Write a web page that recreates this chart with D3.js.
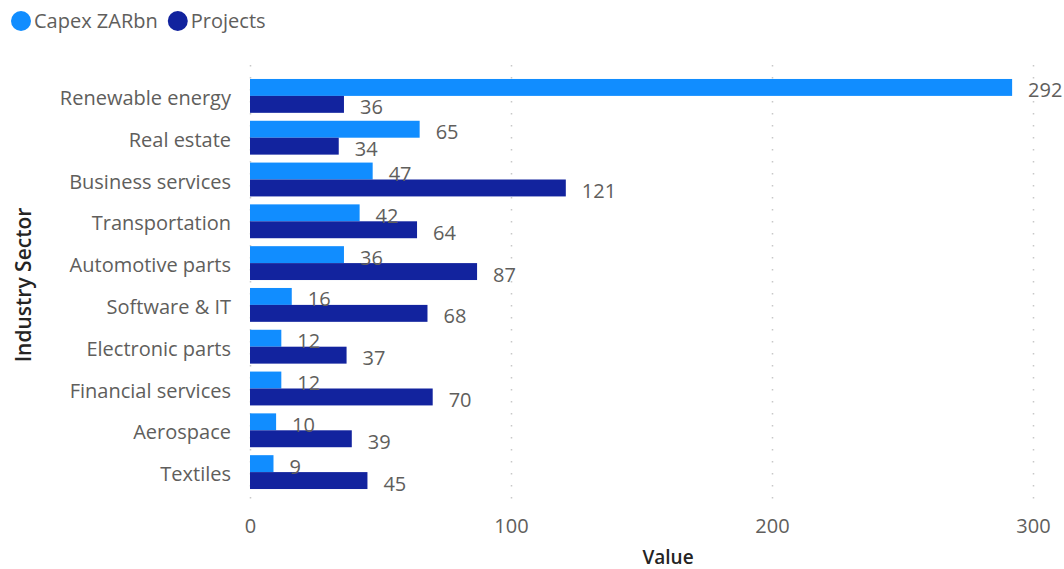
<!DOCTYPE html>
<html>
<head>
<meta charset="utf-8">
<script src="https://cdn.jsdelivr.net/npm/d3@7"></script>
<style>
  body { margin: 0; background: #fff; }
  svg text { font-family: "Open Sans", "Segoe UI", sans-serif; }
</style>
</head>
<body>
<svg id="chart" width="1064" height="569"></svg>
<script>
const sectors = ["Renewable energy", "Real estate", "Business services", "Transportation",
  "Automotive parts", "Software & IT", "Electronic parts", "Financial services", "Aerospace", "Textiles"];
const capex = [292, 65, 47, 42, 36, 16, 12, 12, 10, 9];
const projects = [36, 34, 121, 64, 87, 68, 37, 70, 39, 45];
const seriesNames = ["Capex ZARbn", "Projects"];
const xTicks = [0, 100, 200, 300];

const colors = ["#118DFF", "#12239E"];
const margin = { top: 75, right: 31, bottom: 76, left: 250 };

const svg = d3.select("#chart");
const width = +svg.attr("width") - margin.left - margin.right;
const height = +svg.attr("height") - margin.top - margin.bottom;
const g = svg.append("g").attr("transform", "translate(" + margin.left + "," + margin.top + ")");

const rows = sectors.map((s, i) => ({ sector: s, values: [capex[i], projects[i]] }));

const y = d3.scaleBand().domain(sectors).range([0, height]).paddingInner(0.19).paddingOuter(0.095);
const y1 = d3.scaleBand().domain(seriesNames).range([0, y.bandwidth()]);
const x = d3.scaleLinear().domain([0, 300]).range([0, width]);

// grid lines
g.selectAll(".grid").data(xTicks).enter().append("line")
  .attr("x1", d => x(d) + 0.5).attr("x2", d => x(d) + 0.5)
  .attr("y1", -10).attr("y2", height + 12)
  .attr("stroke", "#c8c8c8").attr("stroke-width", 1.5)
  .attr("stroke-dasharray", "1.5,10.5");

// x axis labels
g.append("g").attr("transform", "translate(0," + height + ")")
  .call(d3.axisBottom(x).tickValues(xTicks).tickSize(0).tickPadding(26))
  .call(a => a.select(".domain").remove())
  .selectAll("text").attr("font-size", 20).attr("fill", "#605E5C")
  .attr("font-family", "'Open Sans', sans-serif");

// y axis labels
g.append("g")
  .call(d3.axisLeft(y).tickSize(0).tickPadding(19))
  .call(a => a.select(".domain").remove())
  .selectAll("text").attr("font-size", 20).attr("fill", "#605E5C")
  .attr("dy", "0.45em")
  .attr("font-family", "'Open Sans', sans-serif");

const grp = g.selectAll(".grp").data(rows).enter().append("g")
  .attr("transform", d => "translate(0," + y(d.sector) + ")");

grp.selectAll("rect").data(d => d.values.map((v, i) => ({ key: seriesNames[i], v, i }))).enter()
  .append("rect")
  .attr("x", 0).attr("y", d => y1(d.key))
  .attr("width", d => x(d.v)).attr("height", y1.bandwidth())
  .attr("fill", d => colors[d.i]);

grp.selectAll(".lbl").data(d => d.values.map((v, i) => ({ key: seriesNames[i], v, i }))).enter()
  .append("text")
  .attr("x", d => x(d.v) + 16)
  .attr("y", d => y1(d.key) + y1.bandwidth() / 2 + 3)
  .attr("dy", "0.35em")
  .attr("font-size", 20).attr("fill", "#605E5C")
  .text(d => d.v);

// axis titles
svg.append("text").attr("x", 668).attr("y", 564)
  .attr("text-anchor", "middle").attr("font-size", 19).attr("font-weight", 600)
  .attr("fill", "#252423").text("Value");

svg.append("text").attr("transform", "translate(31,285) rotate(-90)")
  .attr("text-anchor", "middle").attr("font-size", 21).attr("font-weight", 600)
  .attr("fill", "#252423").text("Industry Sector");

// legend
const leg = svg.append("g").attr("transform", "translate(11,21)");
let lx = 0;
seriesNames.forEach((n, i) => {
  leg.append("circle").attr("cx", lx + 10).attr("cy", 0).attr("r", 10).attr("fill", colors[i]);
  const t = leg.append("text").attr("x", lx + 23).attr("y", 0).attr("dy", "0.35em")
    .attr("font-size", 20).attr("fill", "#605E5C").text(n);
  lx += 23 + t.node().getComputedTextLength() + 10;
});
</script>
</body>
</html>
